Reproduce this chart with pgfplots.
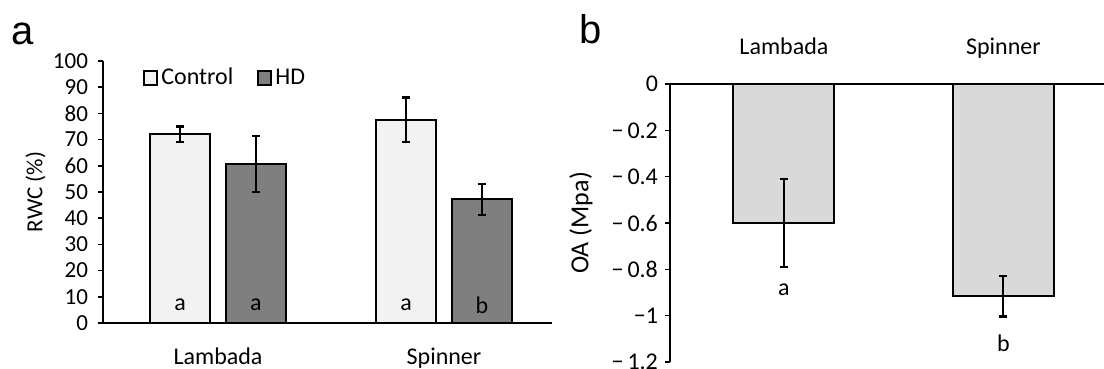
\documentclass[border=0pt]{standalone}
\usepackage{fontspec}
\setmainfont{Carlito}
\newfontfamily\arialfont{Liberation Sans}
\usepackage{pgfplots}
\pgfplotsset{compat=1.18}
\definecolor{ctrl}{HTML}{F2F2F2}
\definecolor{hd}{HTML}{7F7F7F}
\definecolor{oa}{HTML}{D9D9D9}
\pgfplotsset{
  boxlegend/.style={legend image code/.code={\draw[##1, line width=1pt] (0pt,-3.4pt) rectangle (6.5pt,3.4pt);}},
  myerr/.style={error bars/.cd, y dir=both, y explicit,
    error bar style={line width=1pt, black},
    error mark options={rotate=90, mark size=2pt, line width=1.1pt, black}},
}
\begin{document}
\begin{tikzpicture}
\path[use as bounding box] (0,0) rectangle (552pt,184.5pt);
\node[font=\arialfont\fontsize{20}{24}\selectfont, anchor=base west, inner sep=0] at (5.7pt,162pt) {a};
\node[font=\arialfont\fontsize{20}{24}\selectfont, anchor=base west, inner sep=0] at (289.6pt,162.5pt) {b};

\begin{axis}[
  at={(51.5pt,23pt)}, anchor=south west, scale only axis,
  width=224.5pt, height=131pt,
  axis x line*=bottom, axis y line*=left,
  axis line style={line width=1pt, black},
  xmin=-0.509, xmax=1.478, ymin=0, ymax=100,
  xtick={0,1}, xticklabels={Lambada,Spinner}, xtick style={draw=none},
  xticklabel style={font=\fontsize{12}{14}\selectfont, anchor=base, yshift=-18.5pt},
  ytick={0,10,20,30,40,50,60,70,80,90,100},
  tick align=outside, major tick length=2.5pt,
  ytick style={line width=0.8pt, black},
  yticklabel style={font=\fontsize{11.5}{13}\selectfont, xshift=-1.5pt},
  /pgf/number format/assume math mode=true,
  every axis y label/.style={at={(axis description cs:-0.15,0.5)}, rotate=90, anchor=center},
  ylabel={RWC (\%)}, label style={font=\fontsize{11.5}{13}\selectfont},
  ybar=8pt, bar width=30pt,
  legend style={at={(axis description cs:0.089,0.935)}, anchor=west, draw=none, fill=none,
    inner sep=0pt, legend columns=2, font=\fontsize{12}{14}\selectfont,
    nodes={inner xsep=1.5pt, inner ysep=1pt},
    /tikz/every even column/.append style={column sep=10.5pt}},
  legend cell align=left,
]
\addplot[draw=black, line width=1pt, fill=ctrl, boxlegend, myerr]
  coordinates {(0,72.0) +- (0,3.0) (1,77.6) +- (0,8.5)};
\addplot[draw=black, line width=1pt, fill=hd, boxlegend, myerr]
  coordinates {(0,60.7) +- (0,10.7) (1,47.2) +- (0,5.9)};
\legend{Control,HD}
\node[font=\fontsize{12}{14}\selectfont] at (axis cs:-0.168,6.9) {a};
\node[font=\fontsize{12}{14}\selectfont] at (axis cs:0.168,6.9) {a};
\node[font=\fontsize{12}{14}\selectfont] at (axis cs:0.832,6.9) {a};
\node[font=\fontsize{12}{14}\selectfont] at (axis cs:1.168,6.9) {b};
\end{axis}

\begin{axis}[
  at={(335pt,3.5pt)}, anchor=south west, scale only axis,
  width=217pt, height=139pt,
  axis x line*=top, axis y line*=left,
  axis line style={line width=1pt, black},
  xmin=-0.519, xmax=1.458, ymin=-1.2, ymax=0,
  xtick={0,1}, xticklabels={Lambada,Spinner}, xtick style={draw=none},
  xticklabel style={font=\fontsize{12}{14}\selectfont, anchor=base, yshift=12pt},
  ytick={-1.2,-1,-0.8,-0.6,-0.4,-0.2,0},
  yticklabels={−\hspace{2pt}1.2,−1,−\hspace{2pt}0.8,−\hspace{2pt}0.6,−\hspace{2pt}0.4,−\hspace{2pt}0.2,0},
  tick align=outside, major tick length=2.5pt,
  ytick style={line width=0.8pt, black},
  yticklabel style={font=\fontsize{12}{14}\selectfont},
  every axis y label/.style={at={(axis description cs:-0.205,0.5)}, rotate=90, anchor=center},
  ylabel={OA (Mpa)}, label style={font=\fontsize{13}{15}\selectfont},
  ybar, bar width=50.5pt,
]
\addplot[draw=black, line width=1pt, fill=oa, myerr]
  coordinates {(0,-0.600) +- (0,0.19) (1,-0.917) +- (0,0.087)};
\node[font=\fontsize{12}{14}\selectfont] at (axis cs:0,-0.89) {a};
\node[font=\fontsize{12}{14}\selectfont] at (axis cs:1,-1.12) {b};
\end{axis}
\end{tikzpicture}
\end{document}
